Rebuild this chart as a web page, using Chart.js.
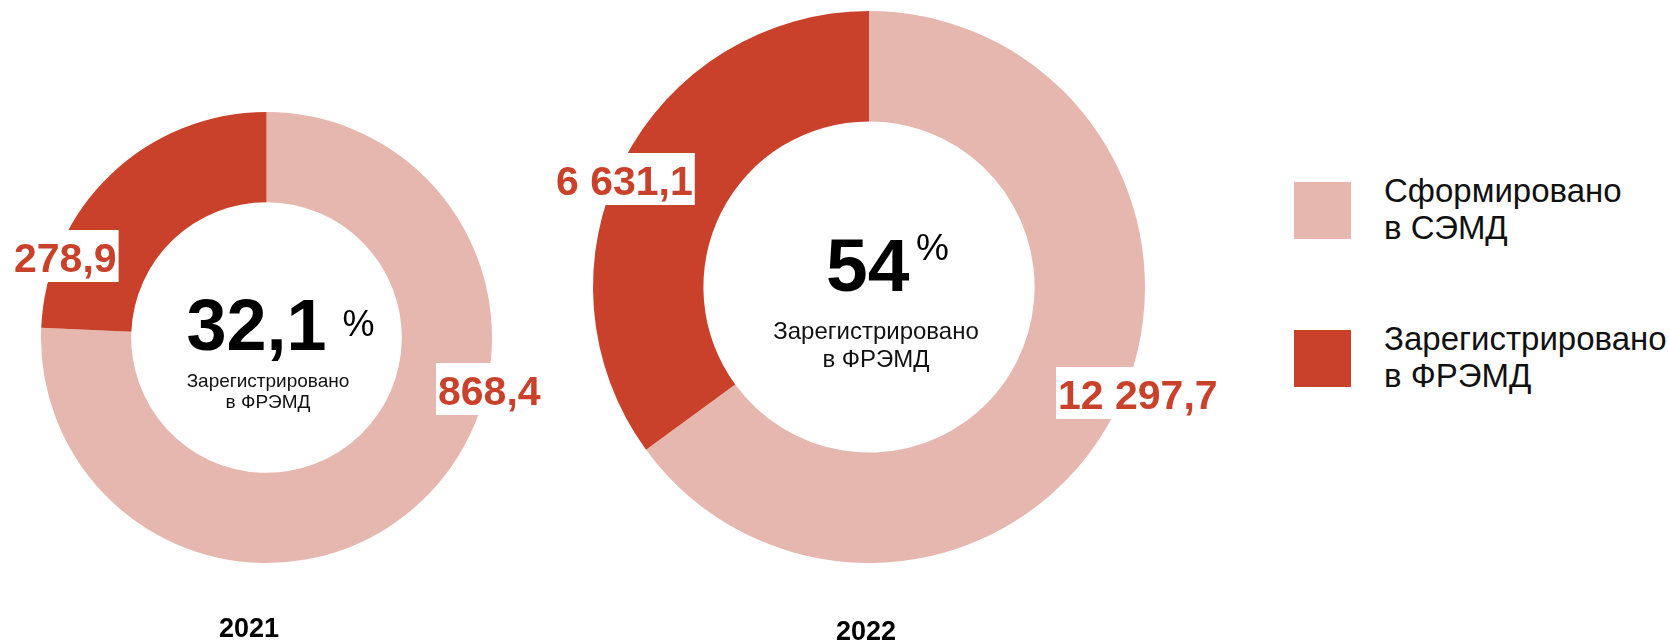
<!DOCTYPE html>
<html lang="ru">
<head>
<meta charset="utf-8">
<script src="https://cdn.jsdelivr.net/npm/chart.js@4.4.1/dist/chart.umd.min.js"></script>
<style>
  html, body { margin: 0; padding: 0; background: #fff; }
  body { width: 1669px; height: 641px; position: relative; overflow: hidden; font-family: "Liberation Sans", Arial, sans-serif; }
  .box { position: absolute; top: 0; height: 641px; }
  #box2021 { left: 0; width: 560px; }
  #box2022 { left: 520px; width: 720px; }
  .legend-item { position: absolute; left: 1294px; }
  .legend-item .sw { position: absolute; left: 0; width: 57px; height: 57px; }
  .legend-item .tx { position: absolute; left: 90px; font-size: 33px; line-height: 37px; color: #111; white-space: pre; }
</style>
</head>
<body>
<div class="box" id="box2021"><canvas id="c2021"></canvas></div>
<div class="box" id="box2022"><canvas id="c2022"></canvas></div>
<div id="legend"></div>

<script>
// data
const years = ['2021', '2022'];
const categories = ['Сформировано в СЭМД', 'Зарегистрировано в ФРЭМД'];
const legendLines = ['Сформировано\nв СЭМД', 'Зарегистрировано\nв ФРЭМД'];
const values2021 = [868.4, 278.9];
const values2022 = [12297.7, 6631.1];
const sharePct = ['32,1', '54'];
const centerNote = ['Зарегистрировано', 'в ФРЭМД'];

const colors = ['#E5B7AF', '#C9412A'];
const FONT = '"Liberation Sans", Arial, sans-serif';

function fmt(v) {
  const parts = v.toFixed(1).split('.');
  const int = parts[0].replace(/\B(?=(\d{3})+(?!\d))/g, ' ');
  return int + ',' + parts[1];
}

// label offsets relative to the doughnut centre
const layouts = {
  '2021': {
    pad: { left: 41, top: 112, right: 68, bottom: 78 },
    labels: [{ dx: 169.5, dy: 67.5 }, { dx: -254.5, dy: -65.5 }],
    big: { dx: -80, dy: 12.5, size: 72 },
    pct: { dx: 76, dy: -1.5, size: 36 },
    note: { dx: 1.5, dy: [49.5, 70.5], size: 19 },
    year: { dx: -17.5, dy: 299.5 }
  },
  '2022': {
    pad: { left: 73, top: 11, right: 95, bottom: 78 },
    labels: [{ dx: 187, dy: 122 }, { dx: -315, dy: -92 }],
    big: { dx: -43, dy: 4, size: 75 },
    pct: { dx: 47, dy: -27, size: 37 },
    note: { dx: 7, dy: [52, 80], size: 24 },
    year: { dx: -3, dy: 353 }
  }
};

const textPlugin = {
  id: 'donutText',
  afterDatasetsDraw(chart) {
    const year = chart.options.plugins.donutText.year;
    const L = layouts[year];
    const arc = chart.getDatasetMeta(0).data[0];
    if (!arc) return;
    const cx = arc.x, cy = arc.y;
    const ctx = chart.ctx;
    const vals = chart.data.datasets[0].data;
    ctx.save();

    // value labels on white boxes
    ctx.font = 'bold 41px ' + FONT;
    ctx.textAlign = 'left';
    ctx.textBaseline = 'alphabetic';
    vals.forEach((v, i) => {
      const p = L.labels[i];
      const s = fmt(v);
      const w = ctx.measureText(s).width;
      const x = cx + p.dx, y = cy + p.dy;
      ctx.fillStyle = '#fff';
      ctx.fillRect(x, y - 42, w + 4, 52);
      ctx.fillStyle = colors[1];
      ctx.fillText(s, x + 2, y);
    });

    // centre percentage
    const idx = years.indexOf(year);
    ctx.fillStyle = '#000';
    ctx.font = 'bold ' + L.big.size + 'px ' + FONT;
    ctx.fillText(sharePct[idx], cx + L.big.dx, cy + L.big.dy);
    ctx.font = L.pct.size + 'px ' + FONT;
    ctx.fillText('%', cx + L.pct.dx, cy + L.pct.dy);

    ctx.textAlign = 'center';
    ctx.fillStyle = '#111';
    ctx.font = L.note.size + 'px ' + FONT;
    centerNote.forEach((line, i) => {
      ctx.fillText(line, cx + L.note.dx, cy + L.note.dy[i]);
    });

    // year under the ring
    ctx.fillStyle = '#000';
    ctx.font = 'bold 27px ' + FONT;
    ctx.fillText(year, cx + L.year.dx, cy + L.year.dy);
    ctx.restore();
  }
};

function makeDonut(canvasId, year, values) {
  const L = layouts[year];
  return new Chart(document.getElementById(canvasId), {
    type: 'doughnut',
    data: {
      labels: categories,
      datasets: [{
        data: values,
        backgroundColor: colors,
        borderWidth: 0
      }]
    },
    options: {
      responsive: true,
      maintainAspectRatio: false,
      animation: false,
      cutout: '60%',
      layout: { padding: L.pad },
      plugins: {
        legend: { display: false },
        tooltip: { enabled: false },
        donutText: { year: year }
      }
    },
    plugins: [textPlugin]
  });
}

makeDonut('c2021', years[0], values2021);
makeDonut('c2022', years[1], values2022);

// legend
const legendEl = document.getElementById('legend');
const legendTops = [182, 330];
legendLines.forEach((txt, i) => {
  const item = document.createElement('div');
  item.className = 'legend-item';
  item.style.top = legendTops[i] + 'px';
  item.innerHTML = '<div class="sw" style="background:' + colors[i] + '"></div>' +
    '<div class="tx" style="top:-10px">' + txt + '</div>';
  legendEl.appendChild(item);
});
</script>
</body>
</html>
